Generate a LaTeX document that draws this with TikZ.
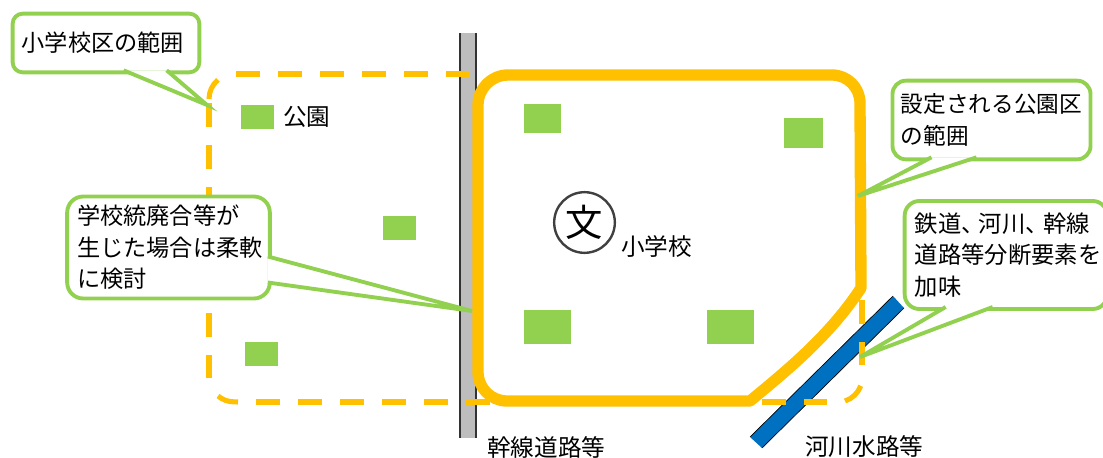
\documentclass[tikz,border=0pt]{standalone}
\usepackage{fontspec}
\setmainfont{Noto Sans CJK JP}
\usetikzlibrary{calc}
\definecolor{parkgreen}{HTML}{92D050}
\definecolor{zoneorange}{HTML}{FFC000}
\definecolor{riverblue}{HTML}{0070C0}
\definecolor{roadgrey}{HTML}{BDBDBD}
\tikzstyle{park}=[fill=parkgreen,inner sep=0pt,outer sep=0pt]
\tikzstyle{callbox}=[draw=parkgreen,line width=2.9pt,fill=white,outer sep=0pt,inner sep=0pt,align=left,font=\fontsize{17.4pt}{23.6pt}\selectfont]
\tikzstyle{calltail}=[draw=parkgreen,line width=2.9pt,fill=white,line join=miter]
\tikzstyle{lbl}=[inner sep=0pt,font=\fontsize{17.7pt}{23.6pt}\selectfont]
\tikzstyle{schoolzone}=[draw=zoneorange,line width=3.8pt,dash pattern=on 18pt off 13.5pt]
\tikzstyle{schoolarc}=[draw=zoneorange,line width=3.8pt]
\begin{document}
\begin{tikzpicture}[x=0.75pt,y=-0.75pt]
        \useasboundingbox (0,0) rectangle (1103,457);
        % road and river
        \fill[roadgrey] (460,33) rectangle (476,438);
        \draw[black!80,line width=0.9pt] (460,33) -- (460,438) (476,33) -- (476,438);
        \fill[riverblue] (893,296) -- (904,308) -- (762,448) -- (750,437) -- cycle;
        \draw[black,line width=0.5pt] (893,296) -- (750,437) (904,308) -- (762,448);
        % school district, dashed sides and solid corners
        \draw[schoolzone] (470,74) -- (235,74);
        \draw[schoolzone] (209,103) -- (209,378);
        \draw[schoolzone] (256,402) -- (491,402);
        \draw[schoolzone] (762,402) -- (827,402);
        \draw[schoolzone] (862,300) -- (862,365);
        \draw[schoolarc] (209,99) arc[start angle=180,end angle=230,radius=25];
        \draw[schoolarc] (218,396) arc[start angle=130,end angle=90,radius=25] -- (238,402);
        \draw[schoolarc] (845,401) arc[start angle=72,end angle=20,radius=25];
        % park district
        \draw[zoneorange,line width=8.5pt,line join=round] (508,75) -- (832,75) arc[start angle=-90,end angle=0,radius=28]
            -- (861,288) .. controls (830,335) and (790,368) .. (750,401) -- (507,401)
            arc[start angle=90,end angle=180,radius=29] -- (478,105) arc[start angle=180,end angle=270,radius=30] -- cycle;
        % parks
        \node[park,minimum width=24.75pt,minimum height=18pt] (park1) at (257.5,117) {};
        \node[park,minimum width=27.75pt,minimum height=21.75pt] (park2) at (542.5,118.5) {};
        \node[park,minimum width=29.25pt,minimum height=22.5pt] (park3) at (803.5,133) {};
        \node[park,minimum width=24.75pt,minimum height=18pt] (park4) at (399.5,228) {};
        \node[park,minimum width=35.25pt,minimum height=25.5pt] (park5) at (547.5,327) {};
        \node[park,minimum width=35.25pt,minimum height=25.5pt] (park6) at (730.5,327) {};
        \node[park,minimum width=24.75pt,minimum height=18pt] (park7) at (261.5,354) {};
        % school
        \node[circle,draw=black!75,line width=1.8pt,fill=white,minimum size=45.5pt,inner sep=0pt,font=\fontsize{28pt}{28pt}\selectfont] (school) at (584.5,222.5) {文};
        % labels
        \node[lbl,anchor=west] (lblpark) at (283,117) {公園};
        \node[lbl,anchor=west] (lblschool) at (621,247) {小学校};
        \node[lbl,anchor=west] (lblroad) at (487,447) {幹線道路等};
        \node[lbl,anchor=west] (lblriver) at (805,447) {河川水路等};
        % callouts
        \node[callbox,rounded corners=7.5pt,minimum width=140pt,minimum height=44pt,text width=126.5pt] (callA) at (106,43) {小学校区の範囲};
        \node[callbox,rounded corners=12pt,minimum width=152pt,minimum height=76.5pt,text width=137pt] (callB) at (168.5,247.5) {学校統廃合等が\\生じた場合は柔軟\\に検討};
        \node[callbox,rounded corners=10pt,minimum width=148.5pt,minimum height=59pt,text width=136pt,font=\fontsize{17pt}{23.6pt}\selectfont] (callC) at (991.5,120) {設定される公園区\\の範囲};
        \node[callbox,rounded corners=11pt,minimum width=152pt,minimum height=81pt,text width=137pt,font=\fontsize{17.5pt}{23.6pt}\selectfont] (callD) at (1006,255) {鉄道、\kern-.25em 河川、\kern-.25em 幹線\\道路等分断要素を\\加味};
        \coordinate (tipA) at (207,105);
        \coordinate (tipB) at (472,311);
        \coordinate (tipC) at (858,196);
        \coordinate (tipD) at (860,357);
        \draw[calltail] ($(callA.south west)+(111,-2)$) -- (tipA) -- ($(callA.south west)+(154,-2)$);
        \draw[calltail] ($(callB.north east)+(-2,60)$) -- (tipB) -- ($(callB.north east)+(-2,86)$);
        \draw[calltail] ($(callC.south west)+(39,-2)$) -- (tipC) -- ($(callC.south west)+(84,-2)$);
        \draw[calltail] ($(callD.south west)+(41,-2)$) -- (tipD) -- ($(callD.south west)+(88,-2)$);
\end{tikzpicture}
\end{document}
